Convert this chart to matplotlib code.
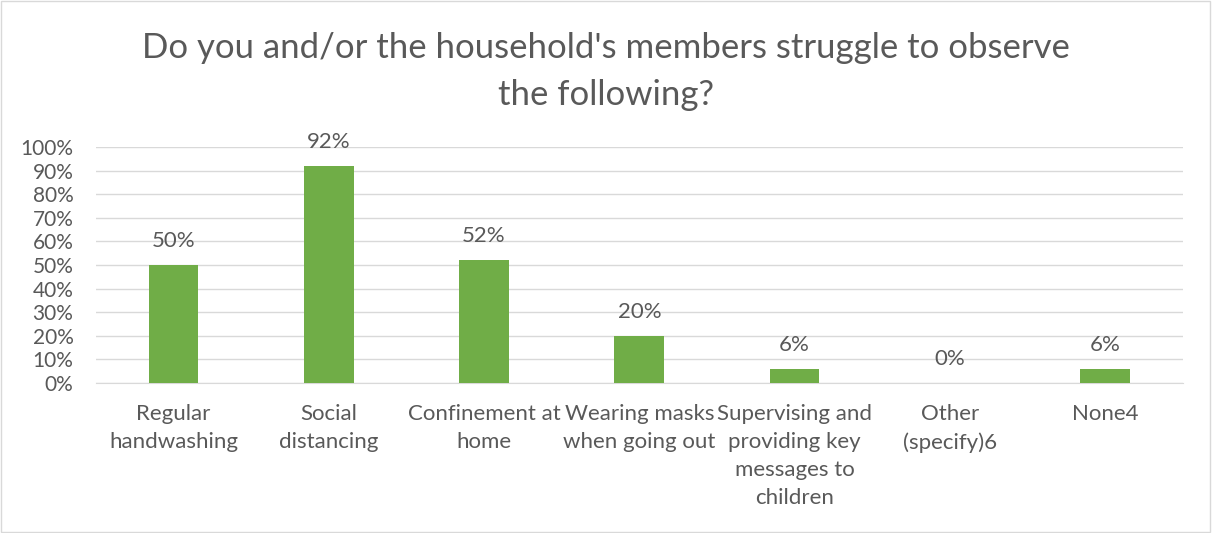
import matplotlib.pyplot as plt
from matplotlib.ticker import PercentFormatter

categories = ["Regular\nhandwashing", "Social\ndistancing", "Confinement at\nhome",
              "Wearing masks\nwhen going out", "Supervising and\nproviding key\nmessages to\nchildren",
              "Other\n(specify)6", "None4"]
values = [0.50, 0.92, 0.52, 0.20, 0.06, 0.00, 0.06]
labels = ["50%", "92%", "52%", "20%", "6%", "0%", "6%"]

plt.rcParams['font.family'] = ['Lato', 'DejaVu Sans']
txt = '#595959'
fs = 16

fig = plt.figure(figsize=(12.12, 5.33), dpi=100)
ax = fig.add_axes([0.079, 0.2814, 0.897, 0.4428])

x = range(len(categories))
ax.bar(x, values, width=0.32, color='#70AD47', zorder=3)
for i, v in enumerate(values):
    ax.text(i, v + 0.06, labels[i], ha='center', va='bottom', fontsize=fs, color=txt)

ax.set_xlim(-0.5, len(categories) - 0.5)
ax.set_ylim(0, 1)
ax.set_yticks([i / 10 for i in range(11)])
ax.yaxis.set_major_formatter(PercentFormatter(1.0, decimals=0))
ax.set_xticks(list(x))
ax.set_xticklabels(categories, fontsize=fs, color=txt, linespacing=1.5, va='top')
ax.tick_params(axis='y', labelsize=15, labelcolor=txt, length=0, pad=16)
ax.tick_params(axis='x', length=0, pad=15)
ax.grid(axis='y', color='#D9D9D9', linewidth=1, zorder=0)
for s in ['top', 'right', 'left']:
    ax.spines[s].set_visible(False)
ax.spines['bottom'].set_color('#D9D9D9')

fig.text(0.5, 0.866, "Do you and/or the household's members struggle to observe\nthe following?",
         ha='center', va='center', fontsize=25, color=txt, linespacing=1.6)

fig.patches.append(plt.Rectangle((0.001, 0.001), 0.997, 0.997, transform=fig.transFigure,
                                 fill=False, edgecolor='#D9D9D9', linewidth=1))

fig.savefig('out.png', dpi=100)
